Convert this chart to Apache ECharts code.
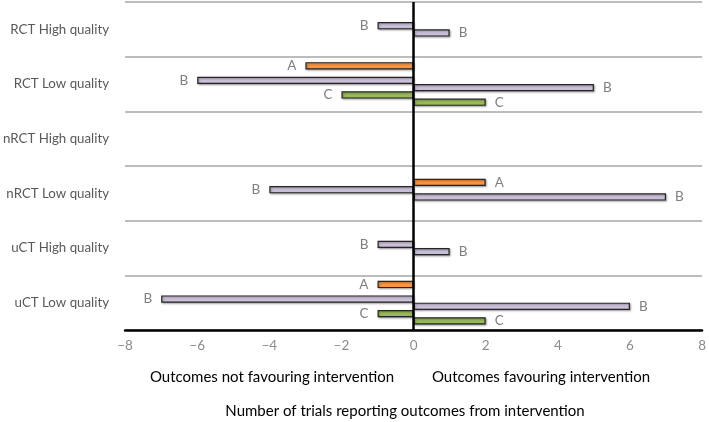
<!DOCTYPE html>
<html><head><meta charset="utf-8">
<script src="https://cdn.jsdelivr.net/npm/echarts@6/dist/echarts.min.js"></script>
<style>html,body{margin:0;padding:0;background:#fff}#c{width:709px;height:422px}</style>
</head><body><div id="c"></div>
<script>
const categories = ['RCT High quality','RCT Low quality','nRCT High quality','nRCT Low quality','uCT High quality','uCT Low quality'];
const aNeg = [null, -3, null, null, null, -1];
const aPos = [null, null, null, 2, null, null];
const bNeg = [-1, -6, null, -4, -1, -7];
const bPos = [1, 5, null, 7, 1, 6];
const cNeg = [null, -2, null, null, null, -1];
const cPos = [null, 2, null, null, null, 2];
const xTicks = [-8, -6, -4, -2, 0, 2, 4, 6, 8];

const colA = '#F79646', colB = '#CCC1DA', colC = '#9BBB59';
function mk(name, data, color, letter, side, withZero) {
  const s = {
    name, type: 'bar', data, barGap: '0%', barCategoryGap: '20%',
    itemStyle: { color, borderColor: '#262626', borderWidth: 1.2,
      shadowColor: 'rgba(0,0,0,0.35)', shadowBlur: 2, shadowOffsetX: 1, shadowOffsetY: 1 },
    label: { show: true, position: side, distance: 9, formatter: letter,
      color: '#7f7f7f', fontSize: 13.5, fontFamily: 'Lato' },
    emphasis: { disabled: true }, animation: false
  };
  if (withZero) {
    s.markLine = { silent: true, symbol: 'none', label: { show: false },
      lineStyle: { color: '#000', width: 2.5, type: 'solid' }, data: [{ xAxis: 0 }] };
  }
  return s;
}
const chart = echarts.init(document.getElementById('c'));
chart.setOption({
  animation: false,
  grid: { left: 118, right: 6, top: 2, bottom: 92, containLabel: false },
  xAxis: {
    type: 'value', min: xTicks[0], max: xTicks[xTicks.length - 1], interval: 2,
    axisLine: { show: true, lineStyle: { color: '#000', width: 2.5 } },
    axisTick: { show: false }, splitLine: { show: false },
    axisLabel: { color: '#8c8c8c', fontSize: 13.5, fontFamily: 'Lato', margin: 9,
      formatter: v => (v < 0 ? '\u2212' + Math.abs(v) : String(v)) }
  },
  yAxis: {
    type: 'category', data: categories, inverse: true,
    axisLine: { show: false }, axisTick: { show: false },
    splitLine: { show: true, interval: 0, lineStyle: { color: '#a6a6a6', width: 1.5 } },
    axisLabel: { color: '#595959', fontSize: 13.3, fontFamily: 'Lato', margin: 16, interval: 0 }
  },
  series: [
    mk('A-', aNeg, colA, 'A', 'left', true),
    mk('A+', aPos, colA, 'A', 'right'),
    mk('B-', bNeg, colB, 'B', 'left'),
    mk('B+', bPos, colB, 'B', 'right'),
    mk('C-', cNeg, colC, 'C', 'left'),
    mk('C+', cPos, colC, 'C', 'right')
  ],
  graphic: [
    { type: 'text', x: 272, y: 377, style: { text: 'Outcomes not favouring intervention', fill: '#000', font: '15px Lato', align: 'center', verticalAlign: 'middle' } },
    { type: 'text', x: 541, y: 377, style: { text: 'Outcomes favouring intervention', fill: '#000', font: '15px Lato', align: 'center', verticalAlign: 'middle' } },
    { type: 'text', x: 405, y: 411, style: { text: 'Number of trials reporting outcomes from intervention', fill: '#000', font: '15px Lato', align: 'center', verticalAlign: 'middle' } }
  ]
});
</script></body></html>
